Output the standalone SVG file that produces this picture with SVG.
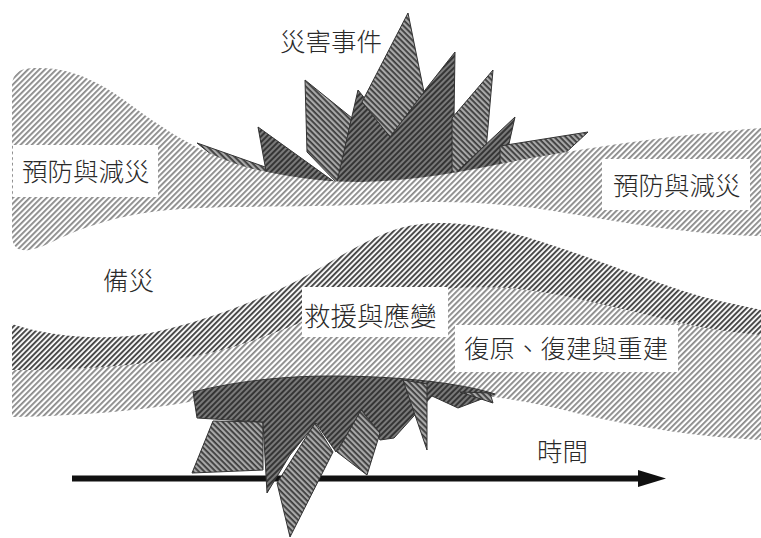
<svg xmlns="http://www.w3.org/2000/svg" width="761" height="538" viewBox="0 0 761 538">
  <defs>
    <!-- band hatches: thin diagonal strokes on white -->
    <pattern id="hatchLight" width="4" height="4" patternUnits="userSpaceOnUse" patternTransform="rotate(-45)">
      <rect width="4" height="4" fill="#ffffff"/>
      <rect width="4" height="1.8" fill="#888888"/>
    </pattern>
    <pattern id="hatchDark" width="3.8" height="3.8" patternUnits="userSpaceOnUse" patternTransform="rotate(-45)">
      <rect width="3.8" height="3.8" fill="#ffffff"/>
      <rect width="3.8" height="2" fill="#4a4a4a"/>
    </pattern>
    <!-- spike fills -->
    <pattern id="spikeDark" width="4" height="4" patternUnits="userSpaceOnUse" patternTransform="rotate(-45)">
      <rect width="4" height="4" fill="#7a7a7a"/>
      <rect width="4" height="2" fill="#353535"/>
    </pattern>
    <pattern id="spikeLight" width="4" height="4" patternUnits="userSpaceOnUse" patternTransform="rotate(45)">
      <rect width="4" height="4" fill="#a8a8a8"/>
      <rect width="4" height="1.8" fill="#3c3c3c"/>
    </pattern>
  </defs>
  <style>
    .lbl { font-family: "Noto Sans CJK TC", "Noto Sans CJK SC", sans-serif; font-size: 25.5px; font-weight: 300; fill: #2a2a2a; }
    .box { fill: #ffffff; }
    .sd { fill: url(#spikeDark); stroke: #333333; stroke-width: 1; stroke-linejoin: miter; }
    .sl { fill: url(#spikeLight); stroke: #333333; stroke-width: 1; stroke-linejoin: miter; }
  </style>

  <rect width="761" height="538" fill="#ffffff"/>

  <!-- upper burst (behind the prevention band) -->
  <g id="burst-top">
    <polygon class="sl" points="197,143 268,168 278,180 240,178"/>
    <polygon class="sd" points="258,127 340,186 268,182"/>
    <polygon class="sl" points="305,80 352,118 340,186 307,152"/>
    <polygon class="sd" points="336,186 358,90 392,132 455,52 453,180"/>
    <polygon class="sl" points="408,13 362,102 390,137 424,92"/>
    <polygon class="sl" points="493,70 452,118 452,180 486,150"/>
    <polygon class="sd" points="515,117 448,180 502,175"/>
    <polygon class="sl" points="588,132 500,146 500,170 560,158"/>
  </g>

  <!-- prevention and mitigation band -->
  <g id="band-prevention">
    <path fill="url(#hatchLight)" d="M12,88 C12,70 22,68 40,68 C75,68 105,85 135,108 C165,130 210,160 262,171 C300,179 330,182 360,182 C420,181 470,170 520,160 C590,148 660,136 761,128 L761,236 C690,235 620,222 560,212 C500,202 440,200 380,204 C300,208 220,205 170,210 C120,214 80,228 50,243 C30,252 12,256 12,235 Z"/>
  </g>

  <!-- response band -->
  <g id="band-response">
    <path fill="url(#hatchDark)" d="M12,324 C40,334 100,343 150,333 C200,322 240,307 280,289 C320,271 360,240 400,228 C430,220 460,222 500,230 C560,245 620,270 680,290 C710,300 740,305 761,310 L761,360 L12,390 Z"/>
  </g>

  <!-- recovery band -->
  <g id="band-recovery">
    <path fill="url(#hatchLight)" d="M12,370 C60,370 130,368 200,355 C260,343 300,320 350,305 C400,292 450,285 510,288 C580,295 640,315 700,327 C730,332 750,334 761,335 L761,440 C700,437 640,428 580,414 C540,404 500,396 460,394 L200,400 C150,410 80,416 12,417 Z"/>
  </g>

  <!-- time axis -->
  <g id="time-axis">
    <line x1="72" y1="478.5" x2="642" y2="478.5" stroke="#111111" stroke-width="6"/>
    <polygon points="638,470 666,478.5 638,487" fill="#111111"/>
  </g>

  <!-- lower burst -->
  <g id="burst-bottom">
    <polygon class="sl" points="213,421 263,422 263,470 192,473"/>
    <path class="sd" d="M193,392 C240,380 290,376 330,376 C400,376 460,383 495,394 L458,408 L432,396 L394,438 L380,440 L362,410 L336,452 L316,423 L290,455 L267,493 L263,422 L197,418 Z"/>
    <polygon class="sl" points="277,483 315,423 333,452 290,537"/>
    <polygon class="sl" points="337,452 361,410 380,433 367,475"/>
    <polygon class="sl" points="403,380 427,384 427,450"/>
    <polygon class="sl" points="460,392 490,393 493,403"/>
  </g>

  <!-- labels -->
  <g id="label-event">
    <text class="lbl" x="280" y="51">災害事件</text>
  </g>
  <g id="label-prevention-left">
    <rect class="box" x="13" y="145" width="145" height="52"/>
    <text class="lbl" x="22" y="181">預防與減災</text>
  </g>
  <g id="label-prevention-right">
    <rect class="box" x="602" y="159" width="148" height="51"/>
    <text class="lbl" x="613" y="195">預防與減災</text>
  </g>
  <g id="label-preparedness">
    <text class="lbl" x="103" y="290">備災</text>
  </g>
  <g id="label-response">
    <rect class="box" x="302" y="287" width="146" height="50"/>
    <text class="lbl" x="304" y="326" style="font-size:26.5px">救援與應變</text>
  </g>
  <g id="label-recovery">
    <rect class="box" x="455" y="325" width="223" height="47"/>
    <text class="lbl" x="464" y="358">復原、復建與重建</text>
  </g>
  <g id="label-time">
    <text class="lbl" x="537" y="461">時間</text>
  </g>
</svg>
